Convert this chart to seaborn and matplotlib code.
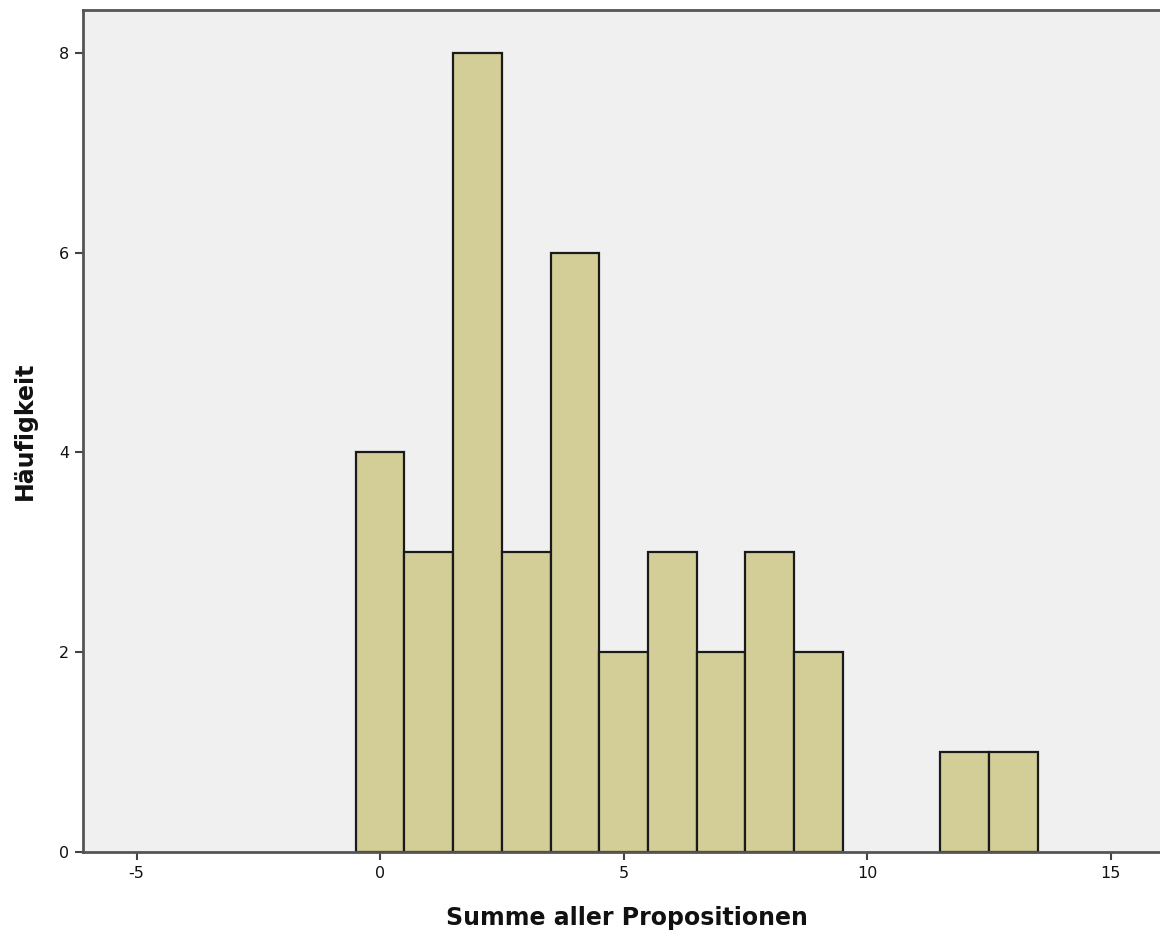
import matplotlib
matplotlib.use("Agg")
import matplotlib.pyplot as plt
import seaborn as sns
import numpy as np

# Data
values = [0, 1, 2, 3, 4, 5, 6, 7, 8, 9, 10, 11, 12, 13]
counts = [4, 3, 8, 3, 6, 2, 3, 2, 3, 2, 0, 0, 1, 1]
x_ticks = [-5, 0, 5, 10, 15]
y_ticks = [0, 2, 4, 6, 8]
x_label = "Summe aller Propositionen"
y_label = "Häufigkeit"

sns.set_style("white")
plt.rcParams['font.family'] = ['DejaVu Sans']

fig = plt.figure(figsize=(11.6, 9.38), dpi=100)
ax = fig.add_axes([83/1160, 1 - 852/938, 1 - 83/1160 + 0.01, (852 - 10)/938])
ax.set_facecolor("#F0F0F0")

sns.histplot(x=values, weights=counts, discrete=True, ax=ax,
             color="#D3CE97", alpha=1.0, edgecolor="#1a1a1a", linewidth=1.6)

# hide empty bins (no outline along the baseline)
for p in ax.patches:
    if p.get_height() == 0:
        p.set_visible(False)

ax.set_xlim(-6.10, 16.25)
ax.set_ylim(0, 8.43)
ax.set_xticks(x_ticks)
ax.set_xticklabels([str(t) for t in x_ticks])
ax.set_yticks(y_ticks)
ax.set_yticklabels([str(t) for t in y_ticks])
ax.tick_params(axis='both', direction='out', length=6, width=1.5, color="#444444",
               labelsize=11.5, labelcolor="#111111", pad=4)
ax.tick_params(axis='x', bottom=True)
ax.tick_params(axis='y', left=True)

for side in ['left', 'bottom', 'top']:
    ax.spines[side].set_visible(True)
    ax.spines[side].set_color("#555555")
    ax.spines[side].set_linewidth(2.0)
ax.spines['right'].set_visible(False)

ax.set_xlabel(x_label, fontsize=17, fontweight='bold', labelpad=18, color="#111111")
ax.set_ylabel(y_label, fontsize=17, fontweight='bold', labelpad=16, color="#111111")

fig.savefig("out.png", dpi=100)
